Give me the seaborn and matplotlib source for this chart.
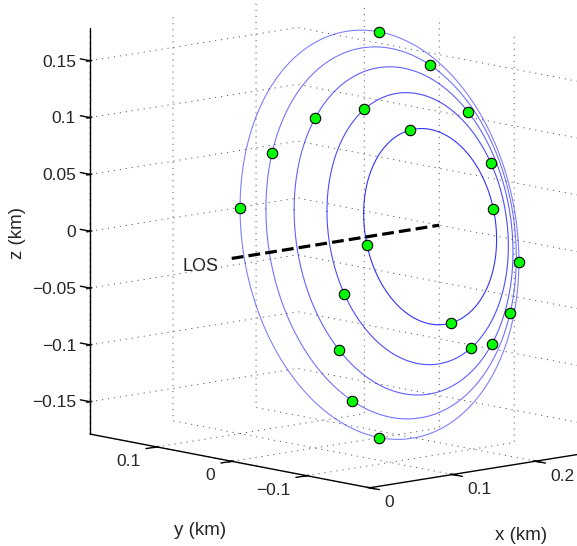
import numpy as np
import matplotlib
matplotlib.use("Agg")
import matplotlib.pyplot as plt
import seaborn as sns
from mpl_toolkits.mplot3d import proj3d

# Ring geometry (km): ring centre on the x axis, semi-axes along y and z
ring_x = [0.239, 0.224, 0.207, 0.192, 0.178]
ring_ry = [0.0887, 0.121, 0.146, 0.167, 0.186]
ring_rz = [0.0856, 0.1187, 0.1432, 0.1623, 0.1785]
# Phase angle (deg, from +y towards +z) of the marked positions on each ring
marker_phase = [
    [72, 162, 252, 342],
    [54, 144, 234, 324],
    [36, 126, 216, 306],
    [18, 108, 198, 288],
    [0, 90, 180, 270],
]
# Line of sight along x
los_x = [0.0, 0.25]

x_ticks = [0.0, 0.1, 0.2]
y_ticks = [-0.1, 0.0, 0.1]
z_ticks = [-0.15, -0.1, -0.05, 0.0, 0.05, 0.1, 0.15]
x_lim = (0.0, 0.25)
y_lim = (-0.184, 0.189)
z_lim = (-0.1785, 0.1785)


def fmt(v):
    return f"{v:g}".replace("-", "\u2212")


sns.set_theme(style="white")
plt.rcParams.update({
    "font.family": ["Liberation Sans", "DejaVu Sans"],
    "grid.color": "0.35",
    "grid.linewidth": 0.7,
    "grid.linestyle": ":",
    "lines.dotted_pattern": [1.2, 5.0],
})

fig = plt.figure(figsize=(5.77, 5.46), dpi=100)
ax = fig.add_axes([0.1471, 0.1022, 0.8395, 0.8872], projection="3d",
                  proj_type="ortho", computed_zorder=False)
ax.view_init(elev=10.1, azim=-132.4)

ax.set_xticks(x_ticks)
ax.set_yticks(y_ticks)
ax.set_zticks(z_ticks)
ax.set_xlim(*x_lim)
ax.set_ylim(*y_lim)
ax.set_zlim(*z_lim)
spans = np.array([x_lim[1] - x_lim[0], y_lim[1] - y_lim[0], z_lim[1] - z_lim[0]])
stretch = np.array([1.0, 0.989, 1.027])
ax.set_box_aspect(spans * stretch, zoom=1.3)

# Keep only the back-pane grid from the 3D axes; axis lines, ticks and
# labels are drawn explicitly below.
ax.grid(True)
for axis in (ax.xaxis, ax.yaxis, ax.zaxis):
    axis.set_pane_color((1, 1, 1, 0))
    axis.pane.set_edgecolor((1, 1, 1, 0))
    axis.line.set_color((0, 0, 0, 0))
    axis.set_tick_params(which="both", tick1On=False, tick2On=False,
                         label1On=False, label2On=False)
    axis.label.set_visible(False)
    axis.offsetText.set_visible(False)


def label_at(x, y, z, s, **kw):
    """Place a flat text at the projected position of a 3D data point."""
    px, py, _ = proj3d.proj_transform(x, y, z, ax.get_proj())
    return ax.text2D(px, py, s, transform=ax.transData, **kw)


# Rings
t = np.linspace(0, 2 * np.pi, 500)
ring_alpha = [0.8, 0.7, 0.62, 0.55, 0.5]
for cx, ry, rz, al in zip(ring_x, ring_ry, ring_rz, ring_alpha):
    ax.plot(np.full_like(t, cx), ry * np.cos(t), rz * np.sin(t),
            color="blue", lw=0.8, alpha=al, zorder=2)

# Line of sight
ax.plot(los_x, [0, 0], [0, 0], color="black", ls="--", lw=2.3, zorder=4)
label_at(los_x[0], 0.018, -0.009, "LOS", ha="right", va="center", fontsize=13)

# Marked positions
mx, my, mz = [], [], []
for cx, ry, rz, phases in zip(ring_x, ring_ry, ring_rz, marker_phase):
    ph = np.deg2rad(phases)
    mx.extend([cx] * len(phases))
    my.extend(ry * np.cos(ph))
    mz.extend(rz * np.sin(ph))
ax.plot(mx, my, mz, ls="none", marker="o", ms=7.5, mfc="#00ff00",
        mec="black", mew=0.8, zorder=5)

# Axis lines, ticks and tick labels
x0, x1 = x_lim
y0, y1 = y_lim
z0, z1 = z_lim
tl = 0.013
line_kw = dict(color="black", lw=1.0, clip_on=False, zorder=6)
ax.plot([x0, x1], [y0, y0], [z0, z0], **line_kw)
ax.plot([x0, x0], [y0, y1], [z0, z0], **line_kw)
ax.plot([x0, x0], [y1, y1], [z0, z1], **line_kw)
fs = 12.5
for xt in x_ticks:
    ax.plot([xt, xt], [y0, y0 - tl], [z0, z0], **line_kw)
    label_at(xt, y0 - 0.02, z0 - 0.004, fmt(xt), ha="left", va="top", fontsize=fs)
for yt in y_ticks:
    ax.plot([x0, x0 - tl], [yt, yt], [z0, z0], **line_kw)
    label_at(x0 - 0.02, yt, z0 - 0.004, fmt(yt), ha="right", va="top", fontsize=fs)
for zt in z_ticks:
    ax.plot([x0, x0], [y1, y1 + tl], [zt, zt], **line_kw)
    label_at(x0, y1 + 0.0187, zt - 0.0035, fmt(zt), ha="right", va="center", fontsize=fs)

fig.text(0.0303, 0.5733, "z (km)", rotation=90, ha="center", va="center", fontsize=13.5)
fig.text(0.3466, 0.0293, "y (km)", ha="center", va="center", fontsize=13.5)
fig.text(0.9029, 0.0201, "x (km)", ha="center", va="center", fontsize=13.5)

fig.savefig("out.png", dpi=100)
